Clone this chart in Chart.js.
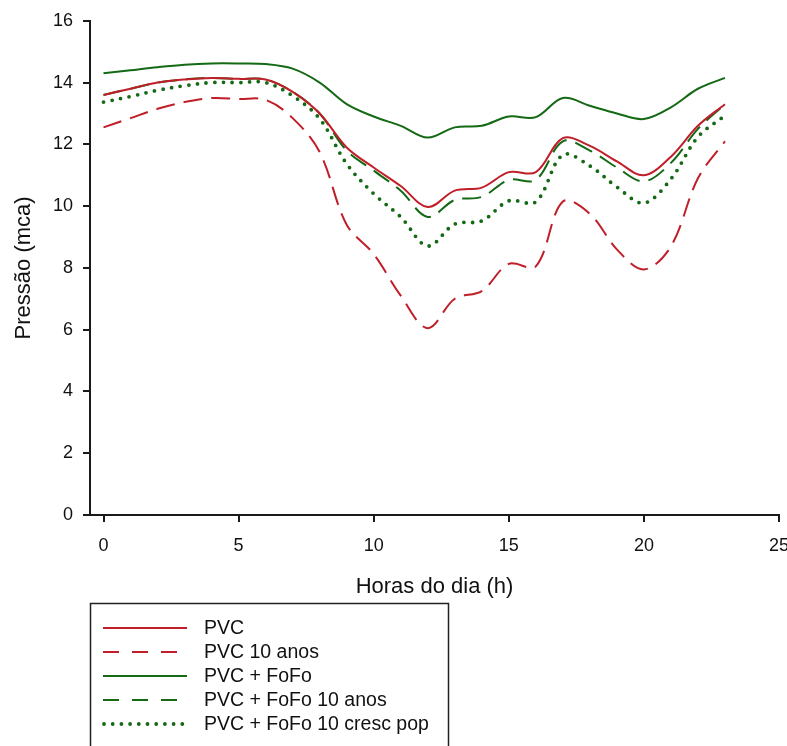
<!DOCTYPE html>
<html>
<head>
<meta charset="utf-8">
<script src="https://cdn.jsdelivr.net/npm/chart.js@4.4.1/dist/chart.umd.min.js"></script>
<style>
  body { margin: 0; background: #fff; }
  canvas { display: block; }
</style>
</head>
<body>
<canvas id="myChart" width="787" height="746"></canvas>
<script>
// hourly pressure (mca) for each pipe scenario
const hours = [0, 1, 2, 3, 4, 5, 6, 7, 8, 9, 10, 11, 12, 13, 14, 15, 16, 17, 18, 19, 20, 21, 22, 23];
const pvc = [13.6, 13.8, 14.0, 14.1, 14.15, 14.12, 14.1, 13.7, 13.0, 11.9, 11.25, 10.65, 9.97, 10.5, 10.6, 11.1, 11.1, 12.2, 11.95, 11.45, 11.0, 11.6, 12.6, 13.3];
const pvc10 = [12.55, 12.85, 13.15, 13.37, 13.5, 13.47, 13.44, 12.85, 11.75, 9.4, 8.45, 7.1, 6.05, 7.0, 7.25, 8.13, 8.05, 10.15, 9.75, 8.6, 7.95, 8.7, 10.9, 12.1];
const pvcFofo = [14.3, 14.4, 14.5, 14.58, 14.62, 14.62, 14.6, 14.45, 14.0, 13.3, 12.9, 12.6, 12.22, 12.55, 12.6, 12.9, 12.88, 13.5, 13.25, 13.0, 12.82, 13.2, 13.8, 14.15];
const pvcFofo10 = [13.6, 13.8, 14.0, 14.1, 14.15, 14.12, 14.1, 13.7, 13.0, 11.8, 11.15, 10.5, 9.65, 10.2, 10.3, 10.85, 10.85, 12.1, 11.8, 11.25, 10.8, 11.4, 12.5, 13.3];
const pvcFofoPop = [13.37, 13.55, 13.75, 13.9, 14.0, 14.0, 14.0, 13.57, 12.83, 11.37, 10.4, 9.65, 8.71, 9.42, 9.52, 10.17, 10.14, 11.66, 11.3, 10.62, 10.1, 10.88, 12.24, 12.93];
const seriesNames = ['PVC', 'PVC 10 anos', 'PVC + FoFo', 'PVC + FoFo 10 anos', 'PVC + FoFo 10 cresc pop'];
const xTicks = [0, 5, 10, 15, 20, 25];
const yTicks = [0, 2, 4, 6, 8, 10, 12, 14, 16];

const red = 'rgb(192, 30, 40)';
const green = 'rgb(20, 105, 20)';
const axisColor = '#1a1a1a';
const fontFamily = '"Liberation Sans", Arial, sans-serif';

function points(values) {
    return hours.map(function (h, i) {
        return { x: h, y: values[i] };
    });
}

function makeSet(label, values, color, dash, width) {
    return {
        label: label,
        data: points(values),
        borderColor: color,
        backgroundColor: color,
        borderWidth: width,
        borderDash: dash,
        borderCapStyle: dash.length && dash[0] === 0 ? 'round' : 'butt',
        pointRadius: 0,
        tension: 0.35,
        fill: false
    };
}

// boxed legend under the x axis title
const legendBox = {
    id: 'legendBox',
    afterDraw: function (chart) {
        const ctx = chart.ctx;
        ctx.save();
        ctx.strokeStyle = '#222';
        ctx.lineWidth = 1.5;
        ctx.strokeRect(90.5, 603.5, 358, 200);
        ctx.font = '19.5px ' + fontFamily;
        ctx.fillStyle = '#111';
        ctx.textBaseline = 'middle';
        chart.data.datasets.forEach(function (ds, i) {
            const y = 628 + i * 24;
            const dotted = ds.borderDash.length && ds.borderDash[0] === 0;
            ctx.beginPath();
            ctx.strokeStyle = ds.borderColor;
            ctx.lineWidth = ds.borderWidth;
            ctx.lineCap = ds.borderCapStyle;
            if (dotted) {
                ctx.setLineDash(ds.borderDash);
                ctx.moveTo(104, y);
                ctx.lineTo(188, y);
            } else if (ds.borderDash.length) {
                ctx.setLineDash([16, 13]);
                ctx.moveTo(103, y);
                ctx.lineTo(178, y);
            } else {
                ctx.moveTo(103, y);
                ctx.lineTo(187, y);
            }
            ctx.stroke();
            ctx.setLineDash([]);
            ctx.fillText(ds.label, 204, y + 1);
        });
        ctx.restore();
    }
};

var ctx = document.getElementById('myChart').getContext('2d');
var myChart = new Chart(ctx, {
    type: 'line',
    data: {
        datasets: [
            makeSet(seriesNames[0], pvc, red, [], 2),
            makeSet(seriesNames[1], pvc10, red, [19, 9], 2),
            makeSet(seriesNames[2], pvcFofo, green, [], 2),
            makeSet(seriesNames[3], pvcFofo10, green, [19, 9], 2),
            makeSet(seriesNames[4], pvcFofoPop, green, [0, 8.7], 3.8)
        ]
    },
    options: {
        responsive: false,
        animation: false,
        layout: {
            padding: { left: 0, top: 20, right: 0, bottom: 146 }
        },
        plugins: {
            legend: { display: false },
            tooltip: { enabled: false }
        },
        scales: {
            x: {
                type: 'linear',
                min: -0.5,
                max: 25,
                afterBuildTicks: function (scale) {
                    scale.ticks = xTicks.map(function (v) { return { value: v }; });
                },
                afterFit: function (scale) {
                    scale.height = 85;
                    scale.paddingRight = 8;
                },
                grid: {
                    display: true,
                    drawOnChartArea: false,
                    drawTicks: true,
                    tickLength: 7,
                    color: axisColor,
                    lineWidth: 2
                },
                border: { display: true, color: axisColor, width: 2 },
                ticks: {
                    color: '#111',
                    padding: 13,
                    maxRotation: 0,
                    font: { family: fontFamily, size: 18 }
                },
                title: {
                    display: true,
                    text: 'Horas do dia (h)',
                    color: '#111',
                    padding: { top: 0, bottom: 0 },
                    font: { family: fontFamily, size: 22 }
                }
            },
            y: {
                type: 'linear',
                min: 0,
                max: 16,
                afterBuildTicks: function (scale) {
                    scale.ticks = yTicks.map(function (v) { return { value: v }; });
                },
                afterFit: function (scale) {
                    scale.width = 90;
                },
                grid: {
                    display: true,
                    drawOnChartArea: false,
                    drawTicks: true,
                    tickLength: 7,
                    color: axisColor,
                    lineWidth: 2
                },
                border: { display: true, color: axisColor, width: 2 },
                ticks: {
                    color: '#111',
                    padding: 10,
                    font: { family: fontFamily, size: 18 }
                },
                title: {
                    display: true,
                    text: 'Pressão (mca)',
                    color: '#111',
                    padding: { top: 11, bottom: 0 },
                    font: { family: fontFamily, size: 22 }
                }
            }
        }
    },
    plugins: [legendBox]
});
</script>
</body>
</html>
